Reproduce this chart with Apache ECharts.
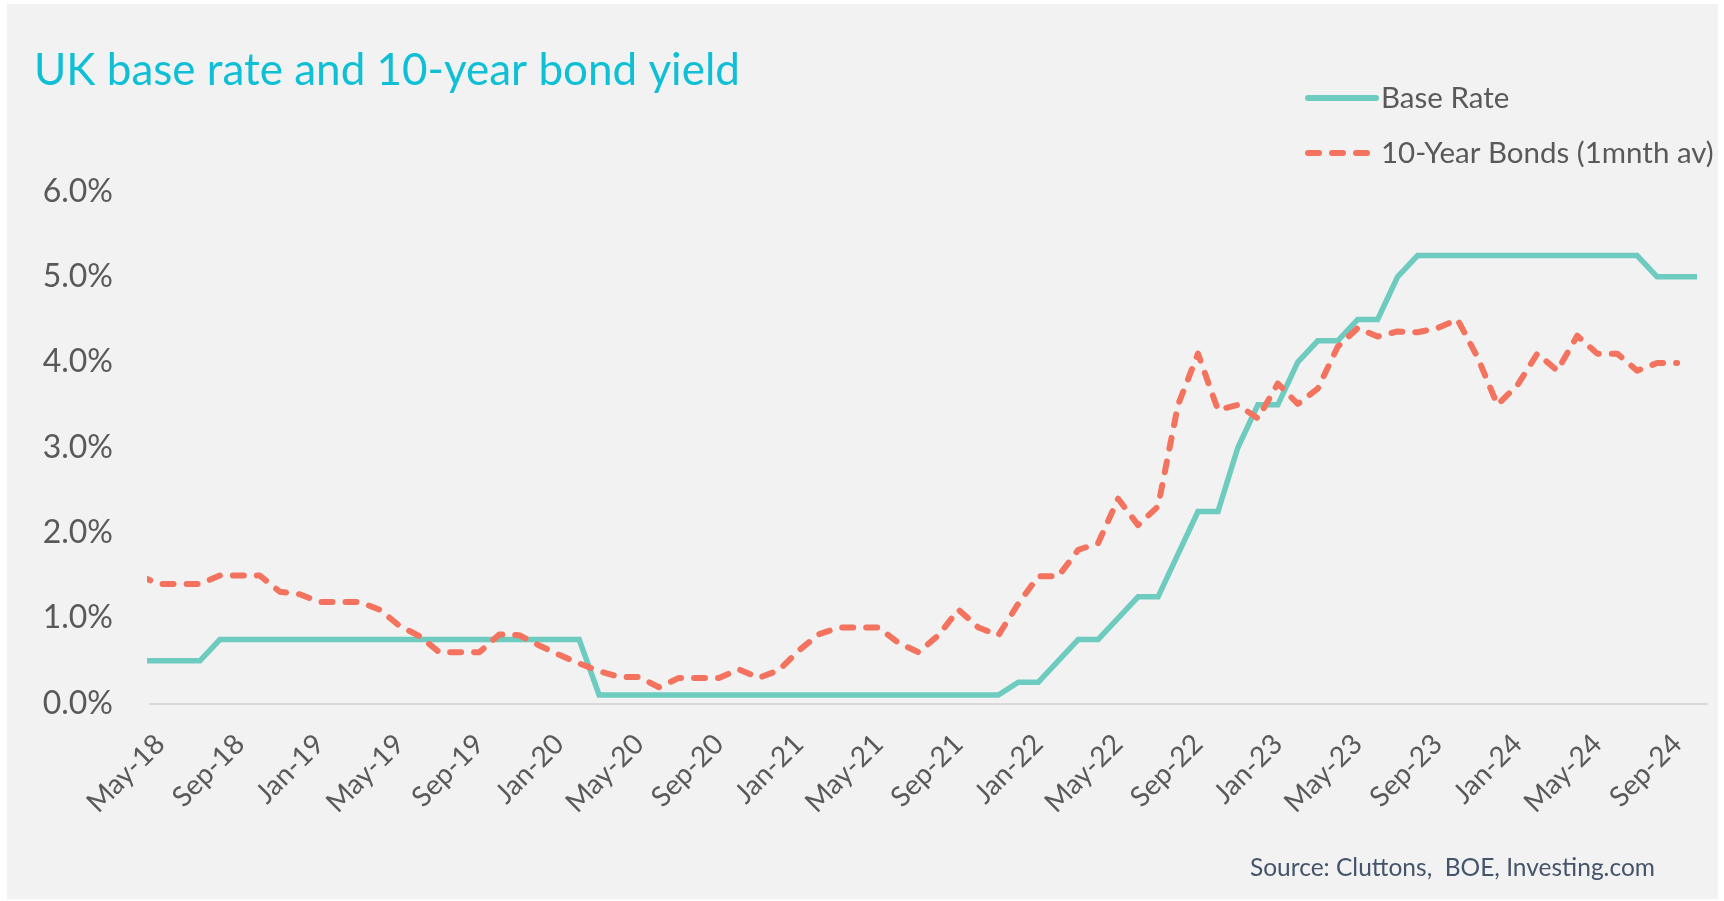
<!DOCTYPE html>
<html>
<head>
<meta charset="utf-8">
<title>UK base rate and 10-year bond yield</title>
<script src="https://cdn.jsdelivr.net/npm/echarts@6/dist/echarts.min.js"></script>
<style>
  html, body { margin: 0; padding: 0; background: #ffffff; width: 1724px; height: 901px; overflow: hidden; }
  #panel { position: absolute; left: 7px; top: 4px; width: 1711px; height: 895px; background: #f2f2f2; }
  #chart { position: absolute; left: 0; top: 0; width: 1724px; height: 901px; }
</style>
</head>
<body>
<div id="panel"></div>
<div id="chart"></div>
<script>
// Month-end observations, Apr-18 to Oct-24
const months = [
  'Apr-18','May-18','Jun-18','Jul-18','Aug-18','Sep-18','Oct-18','Nov-18','Dec-18',
  'Jan-19','Feb-19','Mar-19','Apr-19','May-19','Jun-19','Jul-19','Aug-19','Sep-19','Oct-19','Nov-19','Dec-19',
  'Jan-20','Feb-20','Mar-20','Apr-20','May-20','Jun-20','Jul-20','Aug-20','Sep-20','Oct-20','Nov-20','Dec-20',
  'Jan-21','Feb-21','Mar-21','Apr-21','May-21','Jun-21','Jul-21','Aug-21','Sep-21','Oct-21','Nov-21','Dec-21',
  'Jan-22','Feb-22','Mar-22','Apr-22','May-22','Jun-22','Jul-22','Aug-22','Sep-22','Oct-22','Nov-22','Dec-22',
  'Jan-23','Feb-23','Mar-23','Apr-23','May-23','Jun-23','Jul-23','Aug-23','Sep-23','Oct-23','Nov-23','Dec-23',
  'Jan-24','Feb-24','Mar-24','Apr-24','May-24','Jun-24','Jul-24','Aug-24','Sep-24','Oct-24'
];

// Bank of England base rate (%)
const baseRate = [
  0.5, 0.5, 0.5, 0.5,
  0.75, 0.75, 0.75, 0.75, 0.75, 0.75, 0.75, 0.75, 0.75, 0.75, 0.75, 0.75, 0.75, 0.75, 0.75, 0.75, 0.75, 0.75, 0.75,
  0.1, 0.1, 0.1, 0.1, 0.1, 0.1, 0.1, 0.1, 0.1, 0.1, 0.1, 0.1, 0.1, 0.1, 0.1, 0.1, 0.1, 0.1, 0.1, 0.1, 0.1,
  0.25, 0.25, 0.5, 0.75, 0.75, 1.0, 1.25, 1.25, 1.75, 2.25, 2.25, 3.0, 3.5,
  3.5, 4.0, 4.25, 4.25, 4.5, 4.5, 5.0,
  5.25, 5.25, 5.25, 5.25, 5.25, 5.25, 5.25, 5.25, 5.25, 5.25, 5.25, 5.25,
  5.0, 5.0, 5.0
];

// 10-year gilt yield, one-month average (%)
const bondYield = [
  1.49,
  1.40, 1.40, 1.40, 1.50, 1.50, 1.50, 1.31, 1.28, 1.19, 1.19, 1.19,
  1.10, 0.91, 0.79, 0.60, 0.60, 0.60, 0.81, 0.80, 0.68, 0.57,
  0.47, 0.38, 0.31, 0.31, 0.19, 0.30, 0.30, 0.30, 0.40, 0.30,
  0.39, 0.62, 0.81, 0.89, 0.89, 0.89, 0.71, 0.60, 0.80, 1.10,
  0.89, 0.80, 1.17, 1.49, 1.49, 1.80, 1.88, 2.40, 2.09, 2.31,
  3.50, 4.10, 3.44, 3.50, 3.34, 3.75, 3.51, 3.69, 4.18, 4.40,
  4.30, 4.36, 4.35, 4.40, 4.50, 4.06, 3.50, 3.73, 4.10, 3.90,
  4.31, 4.10, 4.10, 3.90, 3.99, 3.99,
  null
];

// Labelled months on the x axis
const tickMonths = ['May-18','Sep-18','Jan-19','May-19','Sep-19','Jan-20','May-20','Sep-20','Jan-21','May-21',
  'Sep-21','Jan-22','May-22','Sep-22','Jan-23','May-23','Sep-23','Jan-24','May-24','Sep-24'];

const yTicks = [0, 1, 2, 3, 4, 5, 6];

const FONT = 'Lato, "Open Sans", sans-serif';
const TEAL = '#6ecbbf';
const CORAL = '#f4735f';
const DASH = [11, 13];

const toPoints = arr => arr.map((v, i) => [i, v]);
const tickIndex = tickMonths.map(m => months.indexOf(m));

const chart = echarts.init(document.getElementById('chart'), null, { renderer: 'canvas' });
chart.setOption({
  backgroundColor: 'transparent',
  animation: false,
  textStyle: { fontFamily: FONT },
  title: {
    text: 'UK base rate and 10-year bond yield',
    left: 29, top: 44,
    textStyle: { fontFamily: FONT, fontSize: 44, fontWeight: 'normal', color: '#0fbfd6' }
  },
  legend: {
    orient: 'vertical',
    left: 1300, top: 77,
    itemWidth: 68, itemHeight: 16, itemGap: 23,
    itemStyle: { opacity: 0 },
    textStyle: { fontFamily: FONT, fontSize: 29.5, color: '#595959', lineHeight: 32 },
    data: [
      { name: 'Base Rate', lineStyle: { width: 6, color: TEAL, cap: 'round' } },
      { name: '10-Year Bonds (1mnth av)', lineStyle: { width: 6, color: CORAL, type: DASH, cap: 'round' } }
    ]
  },
  grid: { left: 150, right: 17, top: 191.5, bottom: 197.5, containLabel: false },
  xAxis: {
    type: 'value',
    min: 0.5, max: months.length - 0.5,
    axisLine: { show: true, lineStyle: { color: '#d9d9d9', width: 2 } },
    axisTick: { show: false },
    splitLine: { show: false },
    axisLabel: {
      customValues: tickIndex,
      formatter: v => months[Math.round(v)],
      rotate: 45,
      margin: 36,
      fontFamily: FONT, fontSize: 28, color: '#595959'
    }
  },
  yAxis: {
    type: 'value',
    min: yTicks[0], max: yTicks[yTicks.length - 1], interval: 1,
    axisLine: { show: false },
    axisTick: { show: false },
    splitLine: { show: false },
    axisLabel: {
      formatter: v => v.toFixed(1) + '%',
      margin: 37,
      fontFamily: FONT, fontSize: 32, color: '#595959'
    }
  },
  series: [
    {
      name: 'Base Rate',
      type: 'line',
      data: toPoints(baseRate),
      symbol: 'none',
      lineStyle: { color: TEAL, width: 5.5, join: 'miter' },
      itemStyle: { color: TEAL },
      z: 2
    },
    {
      name: '10-Year Bonds (1mnth av)',
      type: 'line',
      data: toPoints(bondYield),
      symbol: 'none',
      lineStyle: { color: CORAL, width: 6, type: DASH, cap: 'round', join: 'round' },
      itemStyle: { color: CORAL },
      z: 3
    }
  ],
  graphic: [
    {
      type: 'text',
      left: 1250, top: 856,
      style: {
        text: 'Source: Cluttons,  BOE, Investing.com',
        font: '24.5px ' + FONT,
        fill: '#44546a'
      }
    }
  ]
});
</script>
</body>
</html>
